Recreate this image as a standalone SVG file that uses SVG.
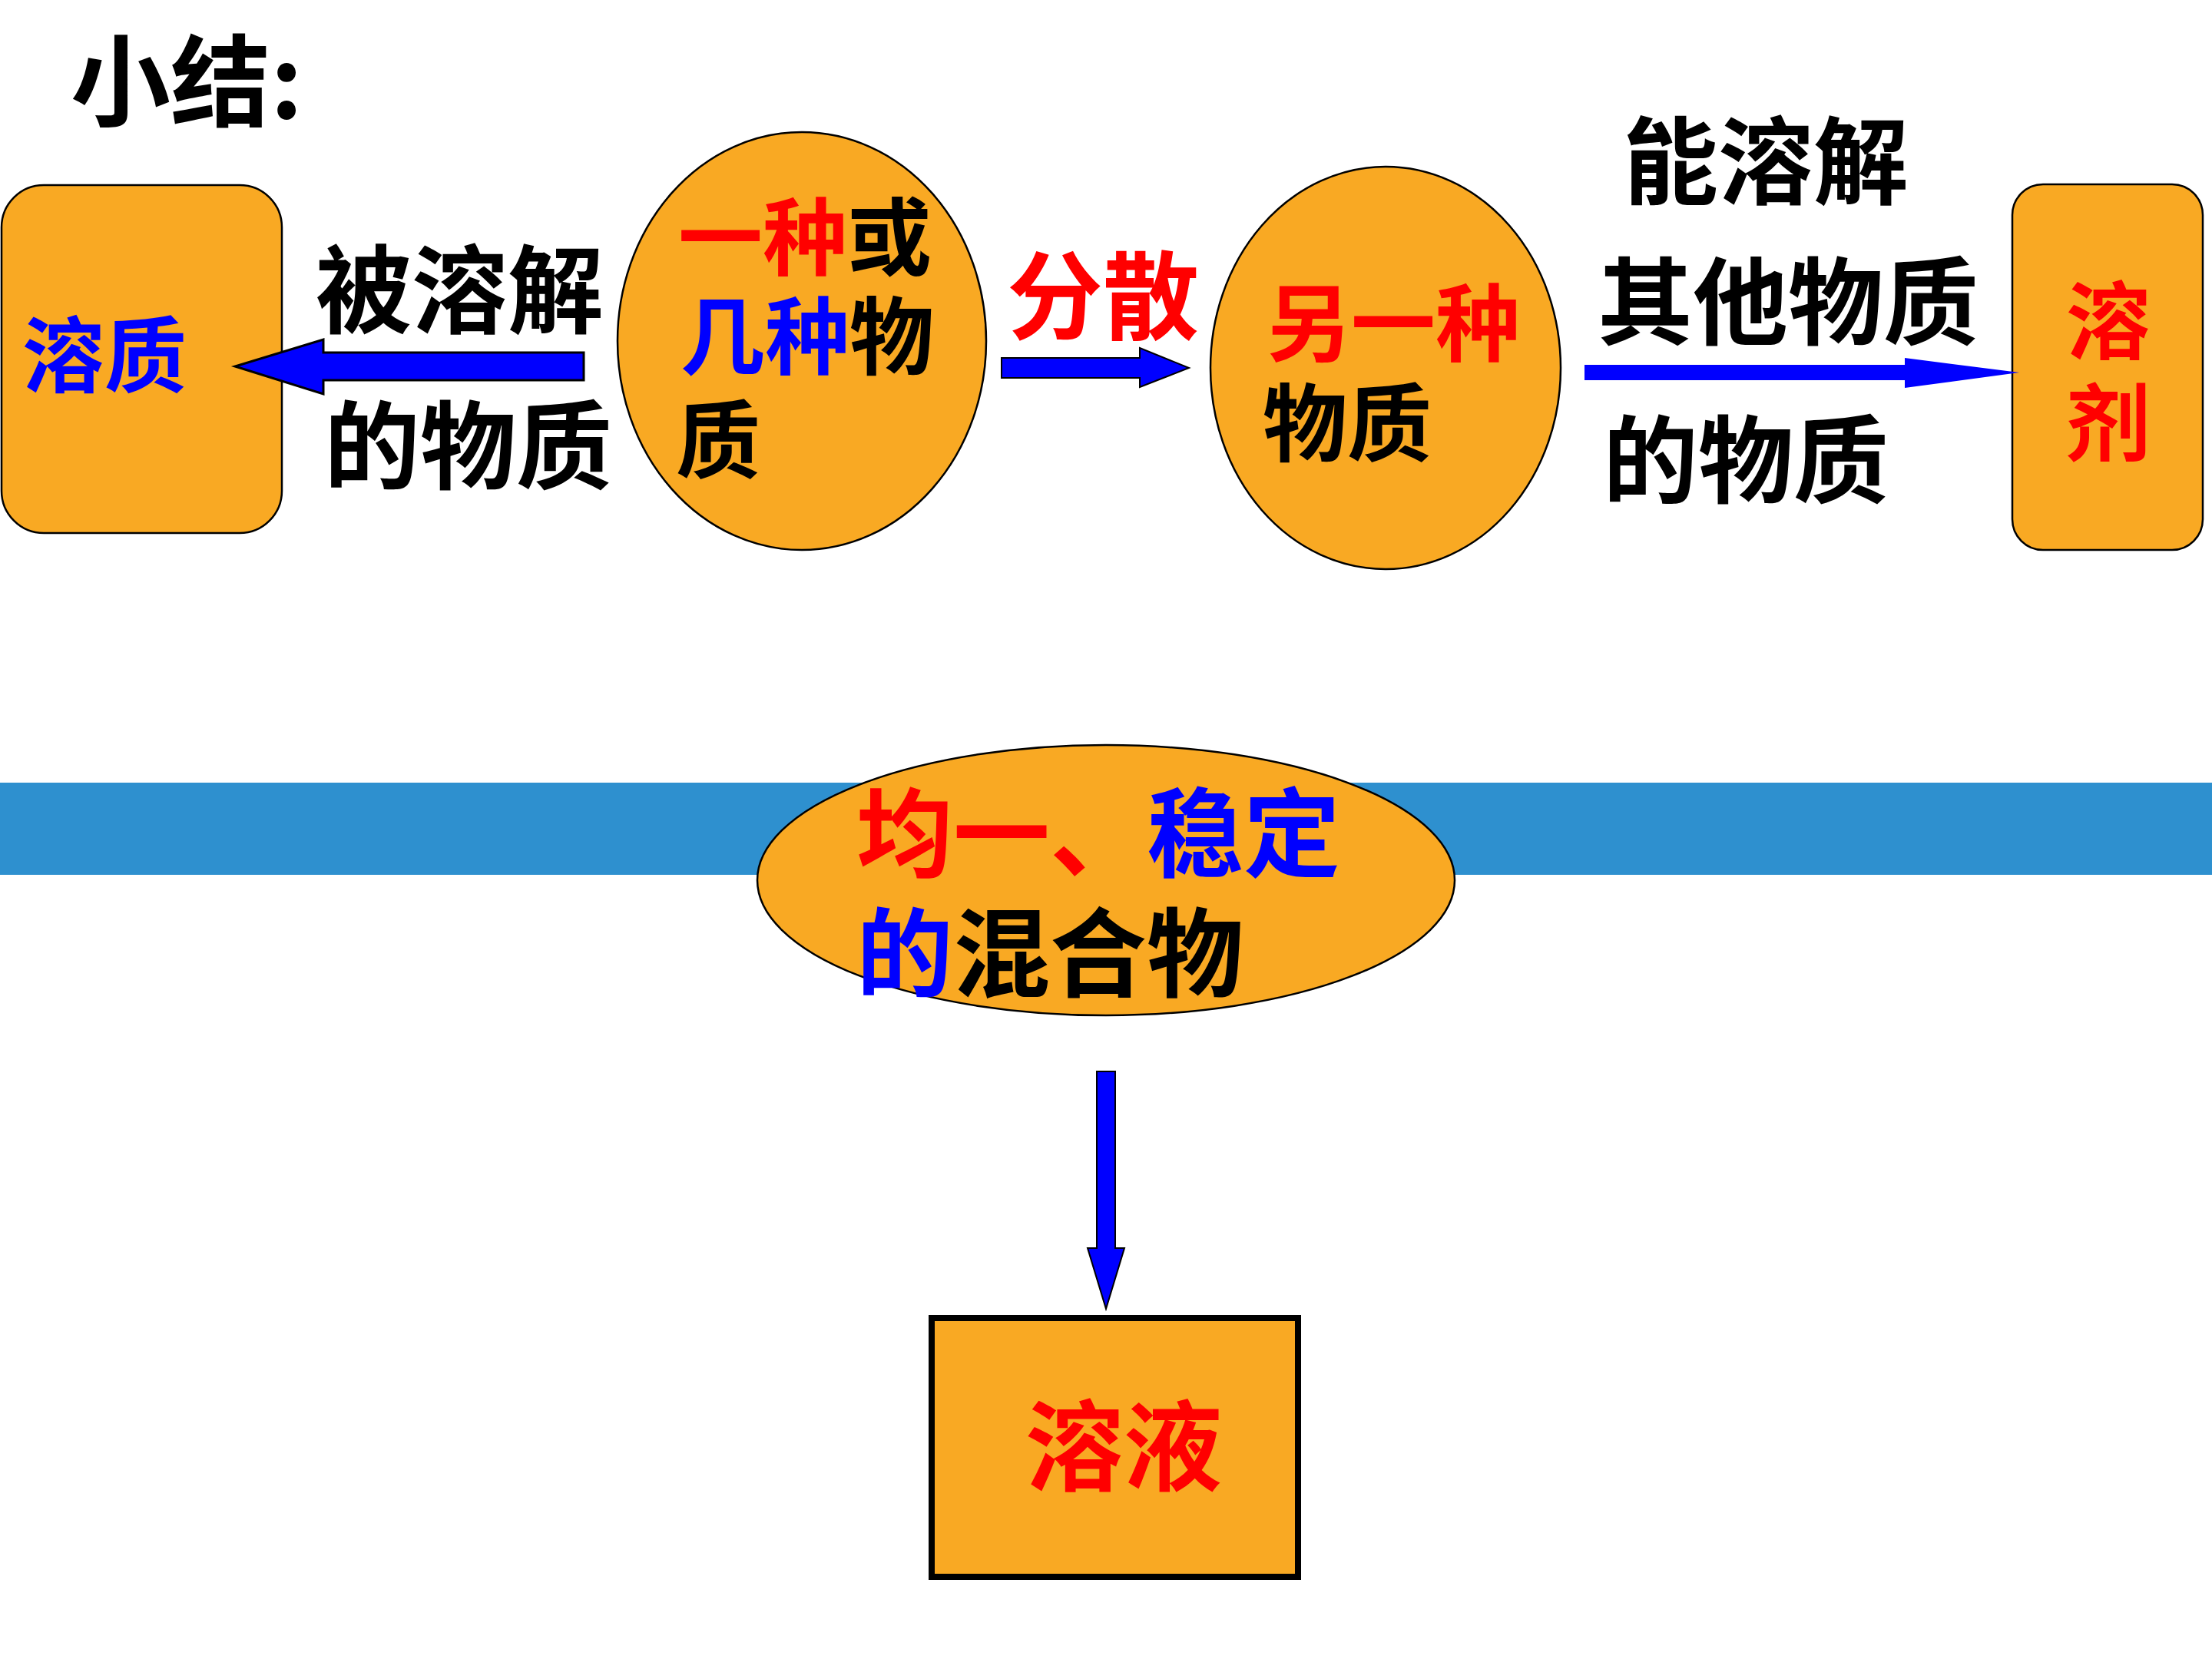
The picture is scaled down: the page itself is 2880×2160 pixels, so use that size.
<svg xmlns="http://www.w3.org/2000/svg" width="2880" height="2160" viewBox="0 0 2880 2160">
<style>
text{font-family:"Noto Sans CJK SC","Noto Sans CJK TC",sans-serif;font-weight:700;fill:#000}
.node{fill:#f9a923;stroke:#000;stroke-width:2.5}
.r{fill:#ff0000}
.b{fill:#0000ff}
.k{fill:#000}
.arrow{fill:#0000ff}
</style>
<rect x="0" y="0" width="2880" height="2160" fill="#fff"/>
<text id="title" x="92" y="154" font-size="130">小结:</text>
<rect id="band" x="0" y="1019" width="2880" height="120" fill="#2e90cf"/>
<g id="solute">
<rect class="node" x="2" y="241" width="365" height="453" rx="55"/>
<text x="29" y="502" font-size="107" class="b">溶质</text>
</g>
<g id="substance">
<ellipse class="node" cx="1044" cy="444" rx="240" ry="272"/>
<text font-size="110"><tspan x="883" y="350" class="r">一种</tspan><tspan class="k">或</tspan><tspan x="886" y="479" class="b">几种</tspan><tspan class="k">物</tspan><tspan x="880" y="614" class="k">质</tspan></text>
</g>
<g id="other">
<ellipse class="node" cx="1804" cy="479" rx="228" ry="262"/>
<text font-size="110"><tspan x="1649" y="462" class="r">另一种</tspan><tspan x="1644" y="592" class="k">物质</tspan></text>
</g>
<g id="solvent">
<rect class="node" x="2620" y="240" width="248" height="476" rx="40"/>
<text font-size="110" text-anchor="middle" class="r"><tspan x="2745" y="459">溶</tspan><tspan x="2745" y="592">剂</tspan></text>
</g>
<g id="mixture">
<ellipse class="node" cx="1440" cy="1146" rx="454" ry="176"/>
<text font-size="126"><tspan x="1115" y="1132" class="r">均一、</tspan><tspan class="b">稳定</tspan><tspan x="1115" y="1288" class="b">的</tspan><tspan class="k">混合物</tspan></text>
</g>
<g id="solution">
<rect x="1213" y="1716" width="477" height="337" fill="#f9a923" stroke="#000" stroke-width="8"/>
<text x="1335" y="1931" font-size="128" class="r">溶液</text>
</g>
<g id="connectors">
<path class="arrow" d="M760,459 L421,459 L421,442 L306,477 L421,513 L421,495 L760,495 Z" stroke="#000" stroke-width="3"/>
<path class="arrow" d="M1304,466 L1484,466 L1484,453 L1548,479 L1484,504 L1484,492 L1304,492 Z" stroke="#000" stroke-width="2"/>
<path class="arrow" d="M2063,475 L2480,475 L2480,466 L2629,485 L2480,505 L2480,495 L2063,495 Z"/>
<path class="arrow" d="M1428,1395 L1452,1395 L1452,1625 L1464,1625 L1440,1704 L1416,1625 L1428,1625 Z" stroke="#000" stroke-width="2"/>
<text font-size="125"><tspan x="411" y="424">被溶解</tspan><tspan x="422" y="627">的物质</tspan></text>
<text x="1311" y="432" font-size="125" class="r">分散</text>
<text font-size="124"><tspan x="2113" y="256">能溶解</tspan><tspan x="2080" y="439">其他物质</tspan><tspan x="2087" y="645">的物质</tspan></text>
</g>
</svg>
